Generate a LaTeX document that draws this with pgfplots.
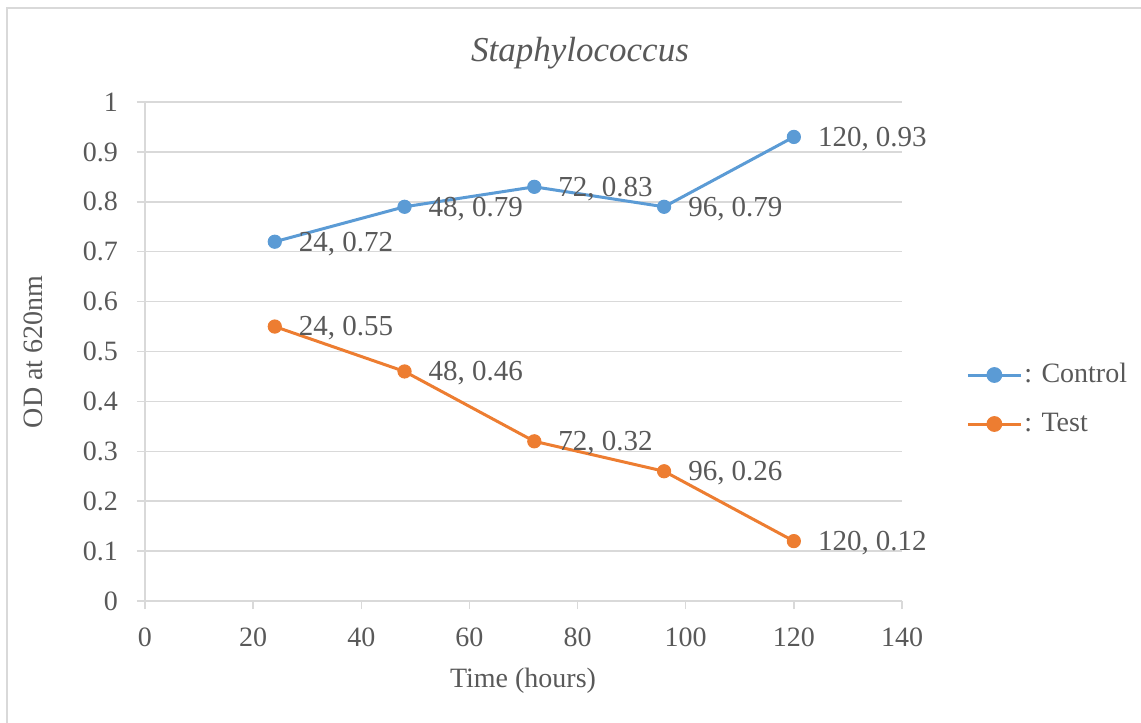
\documentclass[border=0pt]{standalone}
\usepackage{pgfplots}
\pgfplotsset{compat=1.18}
\usepackage{fontspec}
\setmainfont{Liberation Serif}
\definecolor{cblue}{HTML}{5B9BD5}
\definecolor{corange}{HTML}{ED7D31}
\definecolor{ctext}{HTML}{595959}
\definecolor{cgrid}{HTML}{D9D9D9}
\begin{document}
\begin{tikzpicture}[font=\fontsize{14}{16}\selectfont]
\path[use as bounding box] (-72.5pt,-61pt) rectangle (498pt,300.5pt);
\draw[cgrid, line width=0.9pt] (-69pt,-61pt) -- (-69pt,296.5pt) -- (498pt,296.5pt);
\begin{axis}[
  scale only axis, width=378.5pt, height=249.5pt,
  xmin=0, xmax=140, ymin=0, ymax=1,
  xtick={0,20,40,60,80,100,120,140},
  ytick={0,0.1,0.2,0.3,0.4,0.5,0.6,0.7,0.8,0.9,1},
  axis x line*=bottom, axis y line*=left,
  axis line style={cgrid, line width=0.75pt},
  tick style={cgrid, line width=0.75pt},
  major tick length=4pt, tick align=outside,
  ymajorgrids, grid style={cgrid, line width=0.75pt},
  ticklabel style={text=ctext, font=\fontsize{14}{16}\selectfont},
  yticklabel style={xshift=-6pt},
  xticklabel style={yshift=-6pt},
  /pgf/number format/assume math mode=true,
  clip=false,
  legend cell align=left,
  legend style={at={(rel axis cs:1.0766,0.4038)}, anchor=west, draw=none, fill=none,
    text=ctext, font=\fontsize{14}{16}\selectfont, row sep=9.5pt,
    nodes={inner sep=1pt, text height=10pt, text depth=3pt}},
  legend image code/.code={\draw[mark repeat=2,mark phase=2, mark size=3.7pt] plot coordinates {(0pt,0pt) (13.25pt,0pt) (26.5pt,0pt)};},
  every node near coord/.append style={anchor=west, xshift=8.5pt, yshift=-1pt, text=ctext, font=\fontsize{14.5}{16}\selectfont},
]
\addplot[cblue, line width=1.5pt, mark=*, mark size=3.3pt, mark options={fill=cblue, draw=cblue, line width=0.5pt},
  nodes near coords, point meta=explicit symbolic] coordinates {
  (24,0.72) [{24, 0.72}]
  (48,0.79) [{48, 0.79}]
  (72,0.83) [{72, 0.83}]
  (96,0.79) [{96, 0.79}]
  (120,0.93) [{120, 0.93}]
};
\addlegendentry{: Control}
\addplot[corange, line width=1.5pt, mark=*, mark size=3.3pt, mark options={fill=corange, draw=corange, line width=0.5pt},
  nodes near coords, point meta=explicit symbolic] coordinates {
  (24,0.55) [{24, 0.55}]
  (48,0.46) [{48, 0.46}]
  (72,0.32) [{72, 0.32}]
  (96,0.26) [{96, 0.26}]
  (120,0.12) [{120, 0.12}]
};
\addlegendentry{: Test}
\end{axis}
\node[text=ctext, font=\fontsize{17.5}{20}\selectfont\itshape] at (217.5pt,274pt) {Staphylococcus};
\node[text=ctext, rotate=90] at (-56pt,124.5pt) {OD at 620nm};
\node[text=ctext] at (189pt,-40pt) {Time (hours)};
\end{tikzpicture}
\end{document}
